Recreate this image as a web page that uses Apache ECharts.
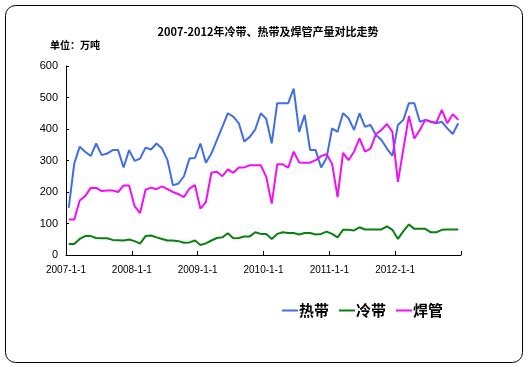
<!DOCTYPE html>
<html><head><meta charset="utf-8">
<script src="https://cdn.jsdelivr.net/npm/echarts@6/dist/echarts.min.js"></script>
<style>html,body{margin:0;padding:0;background:#fff}#c{width:530px;height:384px}</style>
</head><body><div id="c"></div>
<script>
const titleText = '2007-2012年冷带、热带及焊管产量对比走势';
const unitText = '单位：万吨';
const seriesNames = ['热带', '冷带', '焊管'];
const startYear = 2007;
const yTicks = [0, 100, 200, 300, 400, 500, 600];
// monthly values 2007-01 .. 2012-12
const hotStrip = [
  150, 290, 344, 328, 314, 354, 317, 322, 333, 333, 278, 333,
  299, 306, 341, 335, 354, 338, 301, 221, 227, 250, 306, 308,
  354, 293, 322, 365, 407, 450, 439, 418, 360, 375, 399, 450,
  432, 354, 482, 482, 482, 528, 391, 445, 333, 333, 278, 308,
  402, 391, 450, 434, 397, 450, 407, 413, 381, 365, 338, 315,
  413, 429, 482, 482, 423, 429, 423, 418, 423, 402, 384, 418
];
const coldStrip = [
  35, 35, 51, 60, 60, 54, 53, 53, 48, 47, 46, 49,
  44, 36, 60, 62, 56, 51, 46, 46, 44, 39, 40, 46,
  32, 37, 46, 54, 56, 69, 53, 54, 59, 59, 72, 67,
  67, 51, 67, 72, 70, 70, 65, 70, 70, 65, 67, 74,
  67, 56, 80, 80, 78, 88, 81, 81, 81, 81, 91, 80,
  51, 76, 97, 83, 83, 83, 72, 72, 80, 81, 81, 81
];
const weldedPipe = [
  113, 113, 173, 187, 213, 213, 203, 205, 205, 200, 221, 221,
  155, 133, 207, 214, 209, 218, 209, 200, 193, 184, 211, 222,
  147, 168, 261, 264, 250, 272, 261, 278, 278, 285, 285, 285,
  248, 163, 288, 288, 277, 328, 294, 293, 293, 301, 314, 320,
  290, 184, 324, 301, 328, 370, 328, 338, 384, 397, 416, 391,
  232, 337, 441, 370, 397, 429, 423, 420, 461, 418, 447, 429
];
const colors = ['#3f6fe0', '#0a8010', '#f010f0'];
const monthsTotal = hotStrip.length;
function toPts(arr){ return arr.map((v,i)=>[i+0.5, v]); }
const chart = echarts.init(document.getElementById('c'), null, {renderer:'canvas'});
chart.setOption({
  animation:false,
  backgroundColor:'#fff',
  graphic:[
    {type:'rect', shape:{x:5.5,y:5.5,width:517,height:357,r:10}, style:{fill:'none',stroke:'#000',lineWidth:1}},
    {type:'text', x:268, y:32, style:{text:titleText, font:'bold 11px "Noto Sans CJK SC"', fill:'#000', align:'center', verticalAlign:'middle'}},
    {type:'text', x:50, y:45, style:{text:unitText, font:'bold 10px "Noto Sans CJK SC"', fill:'#000', align:'left', verticalAlign:'middle'}}
  ],
  legend:{
    data:seriesNames, left:277, top:298, icon:'rect', itemWidth:16, itemHeight:2, itemGap:10,
    textStyle:{fontSize:15, fontWeight:'bold', color:'#000', fontFamily:'"Noto Sans CJK SC"', padding:[0,0,0,-4]}
  },
  grid:{left:66, top:66, right:69, bottom:129, containLabel:false},
  xAxis:{
    type:'value', min:0, max:monthsTotal, interval:12,
    axisLine:{show:true, lineStyle:{color:'#000', width:1}},
    axisTick:{show:true, inside:true, length:4, lineStyle:{color:'#000'}},
    splitLine:{show:false},
    axisLabel:{margin:10, fontSize:10, color:'#000', fontFamily:'"Liberation Sans"',
      formatter:v => v < monthsTotal ? (startYear + v/12) + '-1-1' : ''}
  },
  yAxis:{
    type:'value', min:yTicks[0], max:yTicks[yTicks.length-1], interval:100,
    axisLine:{show:true, lineStyle:{color:'#000', width:1}},
    axisTick:{show:true, inside:true, length:3, lineStyle:{color:'#000'}},
    splitLine:{show:false},
    axisLabel:{margin:8, fontSize:11, color:'#000', fontFamily:'"Liberation Sans"'}
  },
  series:[
    {name:seriesNames[0], type:'line', data:toPts(hotStrip), showSymbol:false, color:colors[0], lineStyle:{width:2, color:colors[0]}},
    {name:seriesNames[1], type:'line', data:toPts(coldStrip), showSymbol:false, color:colors[1], lineStyle:{width:2, color:colors[1]}},
    {name:seriesNames[2], type:'line', data:toPts(weldedPipe), showSymbol:false, color:colors[2], lineStyle:{width:2, color:colors[2]}}
  ]
});
</script></body></html>
